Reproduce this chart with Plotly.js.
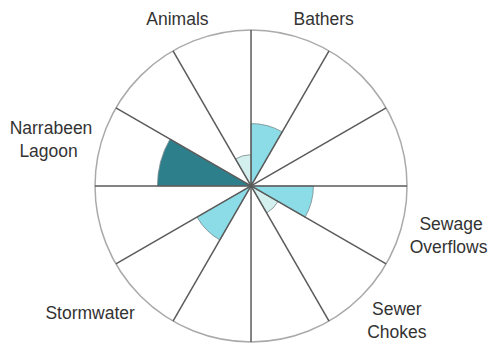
<!DOCTYPE html>
<html>
<head>
<meta charset="utf-8">
<script src="https://cdn.plot.ly/plotly-3.0.1.min.js"></script>
<style>
  html, body { margin: 0; padding: 0; background: #fff; }
  #chart { width: 491px; height: 344px; }
</style>
</head>
<body>
<div id="chart"></div>
<script>
// sources of contamination, one 30 degree sector each
// (nbsp padding keeps the two-line labels looking centred)
const sources = ["Bathers", "Animals", "Narrabeen<br>Lagoon&nbsp;&nbsp;&nbsp;", "Stormwater",
                 "&nbsp;Sewer<br>Chokes", "&nbsp;&nbsp;Sewage<br>Overflows"];
const sectorAngle = [75, 105, 165, 225, 315, 345];
const rating = [2, 1, 3, 2, 1, 2];

// sector boundaries (spokes)
const spokes = [0, 30, 60, 90, 120, 150, 180, 210, 240, 270, 300, 330];

const dom = { x: [0.1935, 0.829], y: [0.006, 0.913] };

const bars = {
  type: "barpolar",
  r: rating,
  theta: sectorAngle,
  width: 30,
  subplot: "polar",
  marker: {
    color: rating,
    cmin: 1, cmax: 3,
    colorscale: [[0, "#d3f0ee"], [0.5, "#8bdce6"], [1, "#2e7f8c"]],
    line: { color: "#7a8a8c", width: 0.8 }
  },
  hoverinfo: "skip",
  showlegend: false
};

// empty layer, only carries the spokes on top of the bars
const dummy = {
  type: "scatterpolar",
  r: [0], theta: [0],
  mode: "markers",
  marker: { opacity: 0 },
  subplot: "polar2",
  hoverinfo: "skip",
  showlegend: false
};

const layout = {
  width: 491, height: 344,
  margin: { l: 0, r: 0, t: 0, b: 0 },
  paper_bgcolor: "#fff",
  showlegend: false,
  font: { family: "Liberation Sans, Arial, sans-serif", size: 17.5, color: "#333" },
  polar: {
    domain: dom,
    bgcolor: "#fff",
    radialaxis: { range: [0, 5], visible: false },
    angularaxis: {
      direction: "counterclockwise",
      rotation: 0,
      tickmode: "array",
      tickvals: sectorAngle,
      ticktext: sources,
      ticks: "outside",
      ticklen: 4,
      tickcolor: "rgba(0,0,0,0)",
      showgrid: false,
      showline: true,
      linecolor: "#aaaaaa",
      linewidth: 1.5,
      tickfont: { size: 17.5, color: "#333" }
    }
  },
  polar2: {
    domain: dom,
    bgcolor: "rgba(0,0,0,0)",
    radialaxis: { range: [0, 5], visible: false },
    angularaxis: {
      direction: "counterclockwise",
      rotation: 0,
      tickmode: "array",
      tickvals: spokes,
      showticklabels: false,
      ticks: "",
      showline: false,
      showgrid: true,
      gridcolor: "#5a5a5a",
      gridwidth: 1.5
    }
  }
};

Plotly.newPlot("chart", [bars, dummy], layout, { displayModeBar: false, staticPlot: true });
</script>
</body>
</html>
